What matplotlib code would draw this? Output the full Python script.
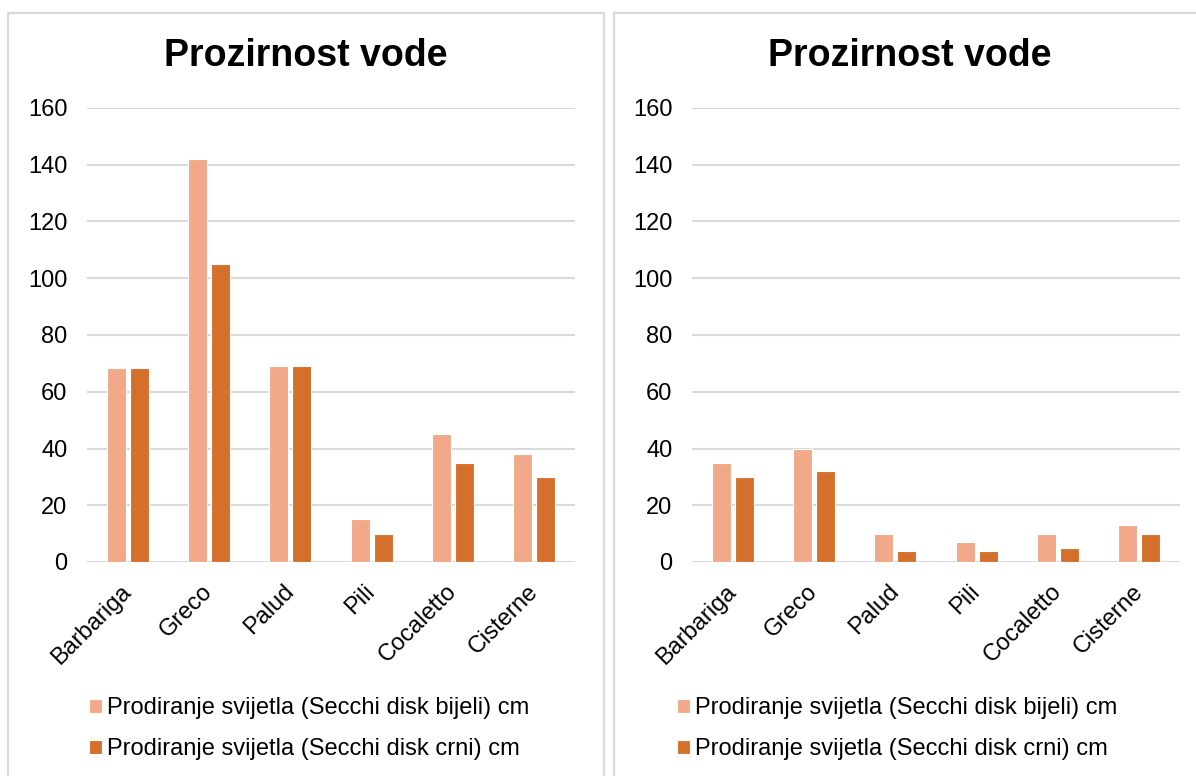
import matplotlib.pyplot as plt
from matplotlib.patches import Rectangle
import numpy as np

plt.rcParams["font.family"] = ["Liberation Sans", "DejaVu Sans"]

# data
sites = ["Barbariga", "Greco", "Palud", "Pili", "Cocaletto", "Cisterne"]
series_names = [
    "Prodiranje svijetla (Secchi disk bijeli) cm",
    "Prodiranje svijetla (Secchi disk crni) cm",
]
left_white = [68.5, 142, 69, 15, 45, 38]
left_black = [68.5, 105, 69, 10, 35, 30]
right_white = [35, 40, 10, 7, 10, 13]
right_black = [30, 32, 4, 4, 5, 10]
title = "Prozirnost vode"
y_ticks = [0, 20, 40, 60, 80, 100, 120, 140, 160]

LIGHT = "#F1A98A"
DARK = "#D4702B"
GRID = "#D9D9D9"

W, H = 1196, 776
fig = plt.figure(figsize=(W / 100, H / 100), dpi=100)


def fx(px):
    return px / W


def fy(py):
    return 1 - py / H


def draw_panel(x0, x1, ax_left, ax_right, white, black, leg_x):
    # panel frame
    fig.patches.append(Rectangle((fx(x0), fy(H + 10)), fx(x1 - x0), fy(13) - fy(H + 10),
                                 transform=fig.transFigure, fill=False,
                                 edgecolor=GRID, linewidth=1.6))
    fig.text(fx((x0 + x1) / 2), fy(56), title, ha="center", va="center",
             fontsize=27, fontweight="bold")

    ax = fig.add_axes([fx(ax_left), fy(562), fx(ax_right - ax_left), fy(108) - fy(562)])
    x = np.arange(len(sites))
    w = 0.235
    ax.bar(x - 0.142, white, width=w, color=LIGHT, edgecolor="white", linewidth=0.8,
           label=series_names[0], zorder=3)
    ax.bar(x + 0.142, black, width=w, color=DARK, edgecolor="white", linewidth=0.8,
           label=series_names[1], zorder=3)

    ax.set_xlim(-0.5, len(sites) - 0.5)
    ax.set_ylim(0, 160)
    ax.set_yticks(y_ticks)
    ax.yaxis.grid(True, color=GRID, linewidth=1.5, zorder=0)
    ax.set_axisbelow(True)
    for s in ax.spines.values():
        s.set_visible(False)
    ax.tick_params(axis="y", length=0, pad=14, labelsize=17)
    ax.tick_params(axis="x", length=0, pad=19, labelsize=17)
    ax.set_xticks(x)
    ax.set_xticklabels(sites, rotation=45, ha="right", va="center", rotation_mode="anchor")

    ax.legend(loc="upper left", bbox_to_anchor=(fx(leg_x), fy(697)),
              bbox_transform=fig.transFigure, frameon=False, fontsize=17,
              handlelength=0.55, handleheight=0.55, handletextpad=0.2,
              labelspacing=0.82, borderpad=0, borderaxespad=0)
    return ax


draw_panel(8, 604, 87, 575, left_white, left_black, 89)
draw_panel(614, 1205, 692, 1180, right_white, right_black, 677)

fig.savefig("out.png", dpi=100)
